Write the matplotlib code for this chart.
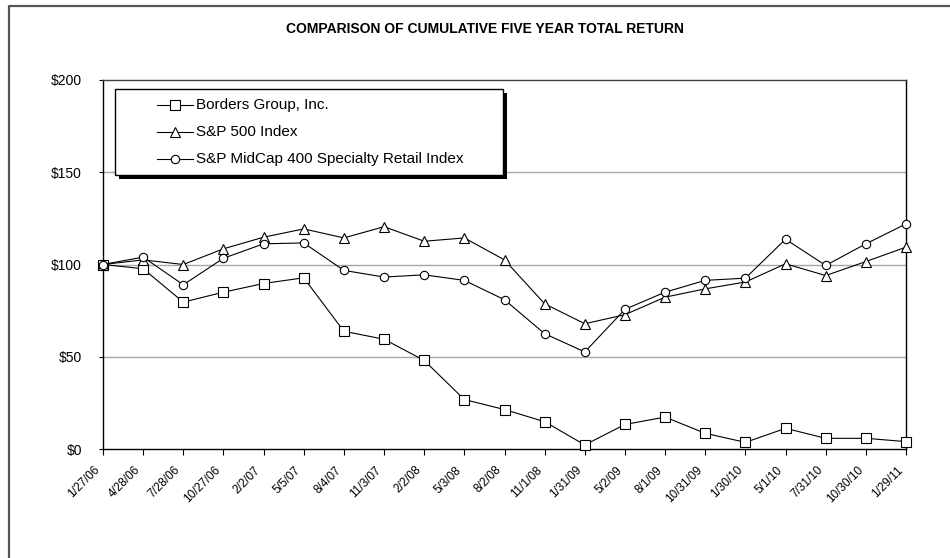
import matplotlib
matplotlib.use("Agg")
import matplotlib.pyplot as plt
from matplotlib.patches import Rectangle
from matplotlib.lines import Line2D
from matplotlib.transforms import ScaledTranslation

dates = ["1/27/06", "4/28/06", "7/28/06", "10/27/06", "2/2/07", "5/5/07", "8/4/07",
         "11/3/07", "2/2/08", "5/3/08", "8/2/08", "11/1/08", "1/31/09", "5/2/09",
         "8/1/09", "10/31/09", "1/30/10", "5/1/10", "7/31/10", "10/30/10", "1/29/11"]

borders = [100, 97.7, 79.6, 85, 89.7, 92.8, 63.8, 59.5, 48, 26.8, 21.4,
           14.8, 2.2, 13.3, 17.3, 8.5, 3.6, 11.2, 5.8, 5.8, 4.0]
sp500 = [100, 102.5, 100, 108.5, 114.8, 119.3, 114.4, 120.5, 112.6, 114.4, 102.5,
         78.7, 67.9, 72.8, 82.3, 86.8, 90.5, 100.4, 94, 101.6, 109.4]
midcap = [100, 104, 89, 103.4, 111.2, 111.7, 96.8, 93.2, 94.4, 91.4, 80.9,
          62.5, 52.6, 75.7, 85, 91.4, 92.6, 113.7, 99.5, 111.2, 122]

series_names = ["Borders Group, Inc.", "S&P 500 Index", "S&P MidCap 400 Specialty Retail Index"]
y_ticks = [0, 50, 100, 150, 200]
y_labels = ["$0", "$50", "$100", "$150", "$200"]
title = "COMPARISON OF CUMULATIVE FIVE YEAR TOTAL RETURN"

font = ["Liberation Sans", "DejaVu Sans"]
plt.rcParams["font.family"] = font

W, H = 950, 558
fig = plt.figure(figsize=(W / 100, H / 100), dpi=100)

# outer border (left and top only)
fig.lines.append(Line2D([8.5 / W, 8.5 / W, 1.0], [0.0, 1 - 6 / H, 1 - 6 / H],
                        transform=fig.transFigure, color="#555555", linewidth=1.6))

ax = fig.add_axes([103 / W, 1 - 449 / H, (906 - 103) / W, (449 - 80) / H])
x = list(range(len(dates)))

ax.set_xlim(0, len(dates) - 1)
ax.set_ylim(0, 200)
for v in y_ticks[1:-1]:
    ax.axhline(v, color="#a6a6a6", linewidth=1.0, zorder=1)

styles = [("s", 7.0), ("^", 7.0), ("o", 6.0)]
for vals, (m, ms), name in zip([borders, sp500, midcap], styles, series_names):
    ax.plot(x, vals, color="black", linewidth=0.8, marker=m, markersize=ms,
            markerfacecolor="white", markeredgecolor="black", markeredgewidth=0.8,
            clip_on=False, zorder=3, label=name)

ax.set_xticks(x)
ax.set_xticklabels([])
lab_tr = ax.get_xaxis_transform() + ScaledTranslation(-9 / 100, -15 / 100, fig.dpi_scale_trans)
for xi, d in zip(x, dates):
    ax.text(xi, 0, d, transform=lab_tr, rotation=45, ha="right", va="top",
            rotation_mode="anchor", fontsize=8.5, clip_on=False)

ax.set_yticks(y_ticks)
ax.set_yticklabels(y_labels, fontsize=10)
ax.tick_params(axis="x", direction="out", length=4, width=0.8)
ax.tick_params(axis="y", direction="out", length=3, width=0.8, pad=12)
ax.spines["top"].set_color("#404040")
for s in ["left", "bottom", "right"]:
    ax.spines[s].set_color("black")
for s in ax.spines.values():
    s.set_linewidth(1.0)

fig.text(485 / W, 1 - 29 / H, title, ha="center", va="center", fontsize=10,
         fontweight="bold")

# legend box with shadow
lx0, ly0, lx1, ly1 = 115, 89, 503, 175
fig.patches.append(Rectangle(((lx0 + 4) / W, 1 - (ly1 + 4) / H), (lx1 - lx0) / W, (ly1 - ly0) / H,
                             transform=fig.transFigure, facecolor="black", edgecolor="black",
                             linewidth=0, zorder=5))
fig.patches.append(Rectangle((lx0 / W, 1 - ly1 / H), (lx1 - lx0) / W, (ly1 - ly0) / H,
                             transform=fig.transFigure, facecolor="white", edgecolor="black",
                             linewidth=1.0, zorder=6))
rows = [105, 132, 159]
for (m, ms), name, yy in zip(styles, series_names, rows):
    yf = 1 - yy / H
    fig.lines.append(Line2D([157 / W, 193 / W], [yf, yf], transform=fig.transFigure,
                            color="black", linewidth=0.8, zorder=7))
    fig.lines.append(Line2D([175 / W], [yf], transform=fig.transFigure, marker=m,
                            markersize=ms, markerfacecolor="white", markeredgecolor="black",
                            markeredgewidth=0.8, linestyle="none", zorder=8))
    fig.text(196 / W, yf, name, ha="left", va="center", fontsize=11, zorder=9)

fig.savefig("out.png", dpi=100)
